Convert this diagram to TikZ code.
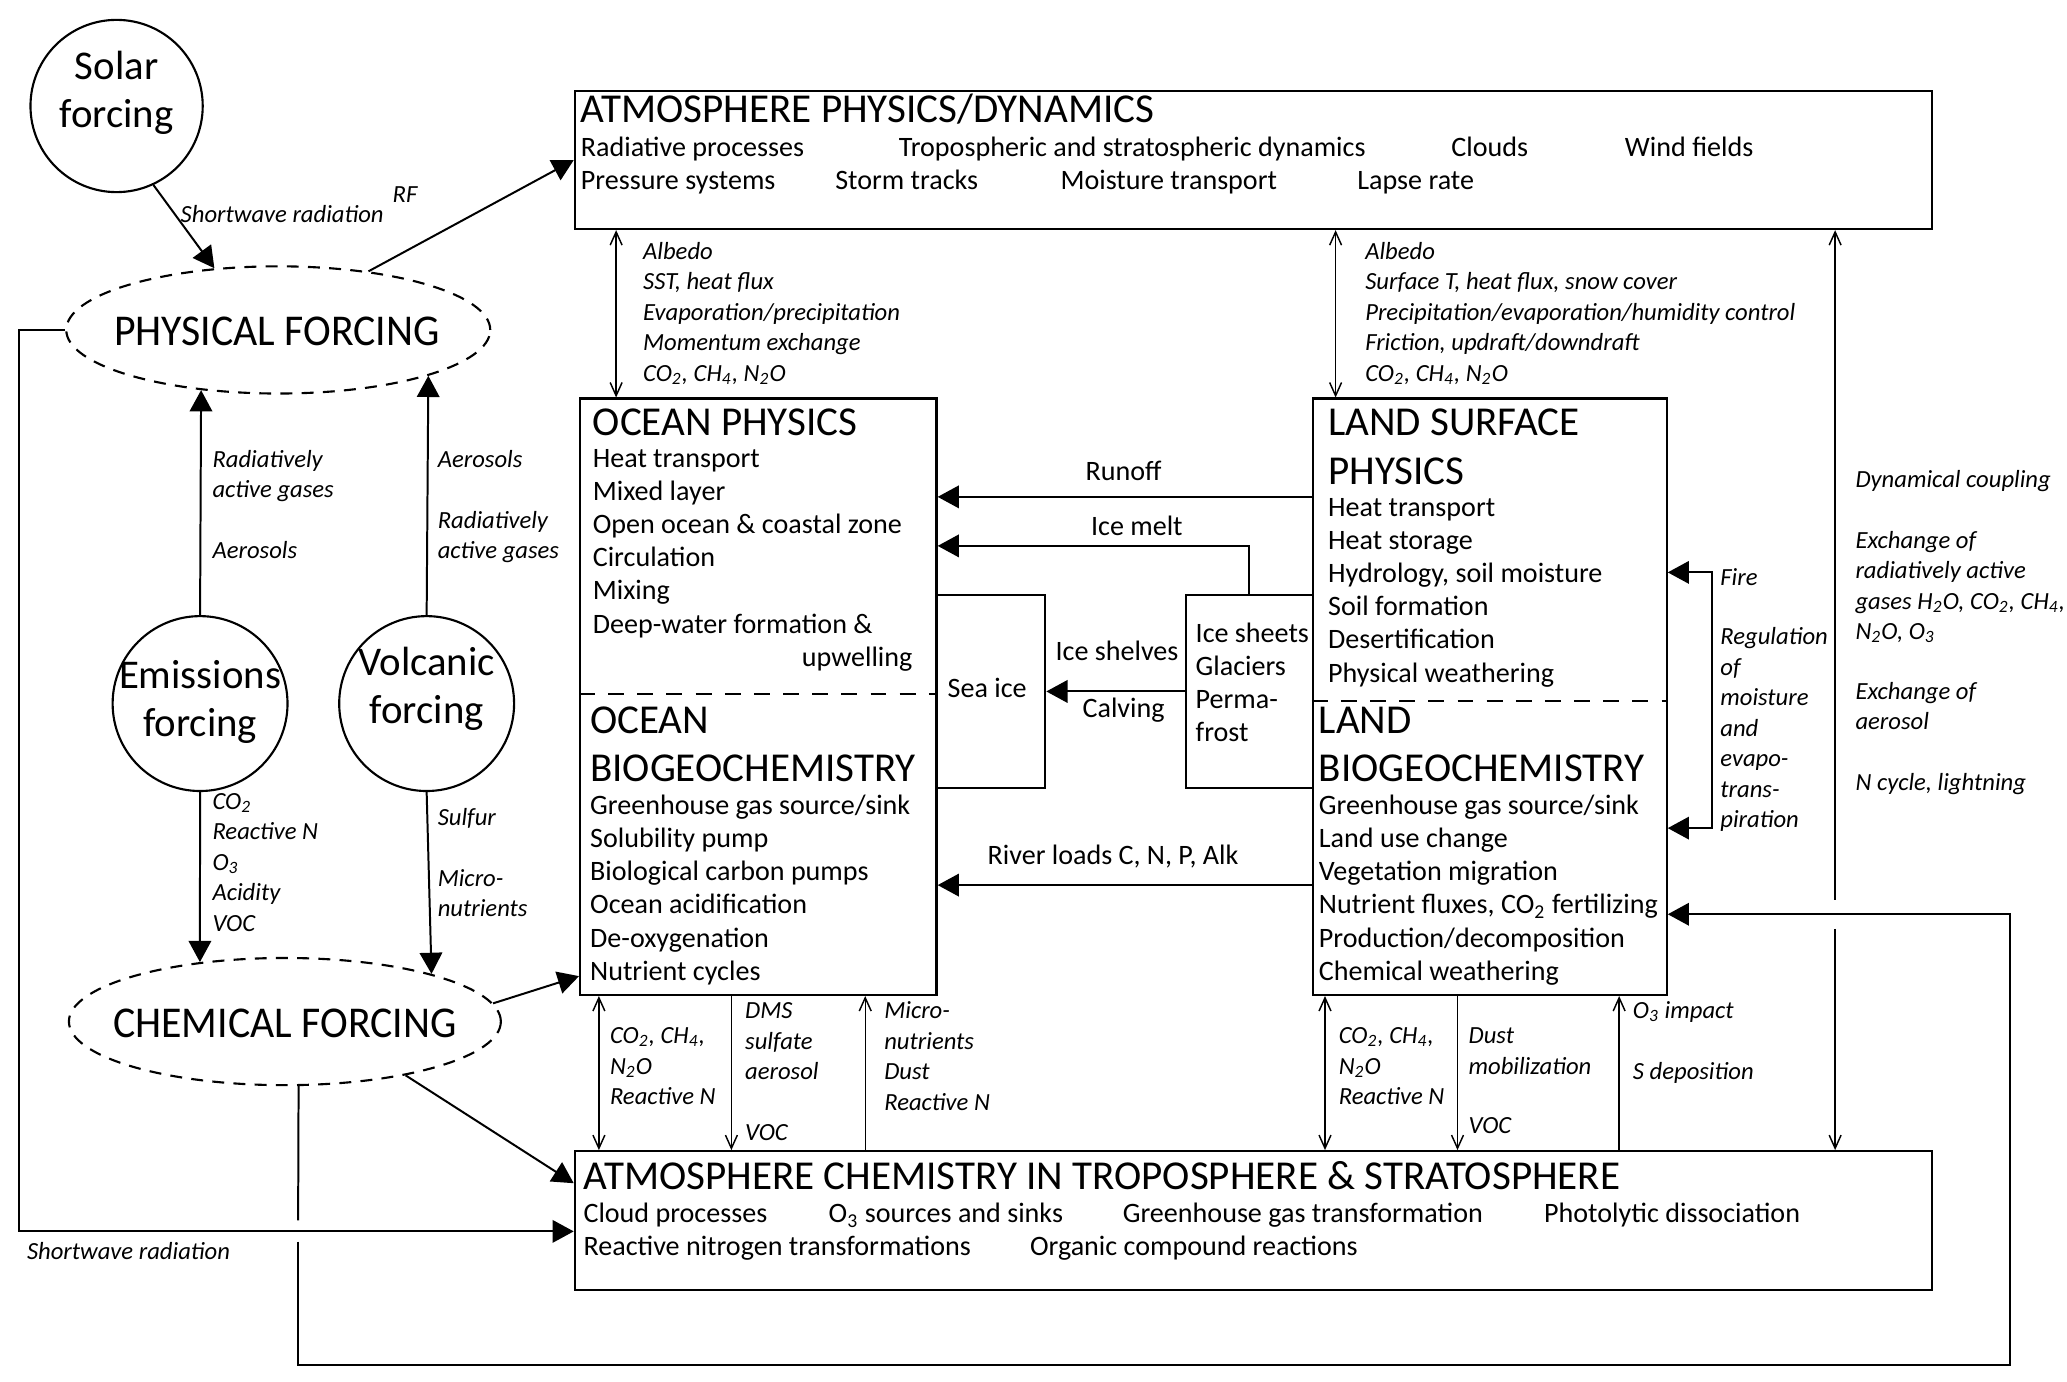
\documentclass[tikz,border=0pt]{standalone}
\usepackage{fontspec}
\setmainfont{Carlito}
\newfontfamily\condf{Carlito}[FakeStretch=0.95]
\usetikzlibrary{arrows.meta,shapes.geometric}
\begin{document}
\begin{tikzpicture}[x=0.5pt,y=-0.5pt,
  box/.style={draw,line width=0.85pt,inner sep=0,anchor=north west},
  circ/.style={draw,circle,line width=0.8pt,inner sep=0},
  ell/.style={draw,ellipse,dash pattern=on 4.5pt off 3.5pt,line width=0.8pt,inner sep=0},
  divider/.style={dash pattern=on 6pt off 5pt,line width=0.8pt},
  fat/.style={line width=0.75pt,-{Triangle[length=8pt,width=8.5pt]}},
  fatboth/.style={line width=0.75pt,{Triangle[length=8pt,width=8.5pt]}-{Triangle[length=8pt,width=8.5pt]}},
  thin/.style={line width=0.55pt,-{Straight Barb[length=5pt,width=4.5pt]}},
  thinboth/.style={line width=0.55pt,{Straight Barb[length=5pt,width=4.5pt]}-{Straight Barb[length=5pt,width=4.5pt]}},
  plain/.style={line width=0.75pt},
  bodyt/.style={font=\fontsize{10.6}{12}\selectfont,anchor=mid west,inner sep=0},
  ttl/.style={font=\fontsize{15.5}{18}\selectfont,anchor=mid west,inner sep=0},
  lab/.style={font=\itshape\fontsize{9.3}{11}\selectfont,anchor=mid west,inner sep=0},
  bigt/.style={font=\fontsize{15.4}{18}\selectfont,align=center,inner sep=0},
  ellt/.style={font=\condf\fontsize{16.6}{18}\selectfont,inner sep=0},
  midt/.style={font=\fontsize{10.6}{12}\selectfont,anchor=mid,inner sep=0}]
\useasboundingbox[fill=white] (0,0) rectangle (1560,1043);

% ---------- boxes ----------
\node[box,minimum width=512pt,minimum height=52pt] (atm) at (433,68) {};
\node[box,minimum width=134.5pt,minimum height=225pt] (ocean) at (437,300) {};
\node[box,minimum width=133.5pt,minimum height=225pt] (land) at (990,300) {};
\node[box,minimum width=41pt,minimum height=73pt] (seaice) at (706,448) {};
\node[box,minimum width=48pt,minimum height=73pt] (icesh) at (894,448) {};
\node[box,minimum width=512pt,minimum height=52.5pt] (chem) at (433,868) {};

\draw[divider] (ocean.west |- 0,524) -- (ocean.east |- 0,524);
\draw[divider] (land.west |- 0,529) -- (land.east |- 0,529);

% ---------- circles and ellipses ----------
\node[circ,minimum size=65pt] (solar) at (88,80) {};
\node[circ,minimum size=66pt] (emis) at (151,531) {};
\node[circ,minimum size=66pt] (volc) at (322,531) {};
\node[ell,minimum width=160pt,minimum height=48pt] (phys) at (210,249) {};
\node[ell,minimum width=163pt,minimum height=48pt] (chemf) at (215,771) {};

\node[bigt] (solart) at (88,70) {Solar\\forcing};
\node[bigt] (emist) at (151,530) {Emissions\\forcing};
\node[bigt] (volct) at (322,520) {Volcanic\\forcing};
\node[ellt] (physt) at (209,250) {PHYSICAL FORCING};
\node[ellt] (chemft) at (215,772) {CHEMICAL FORCING};

% ---------- box texts ----------
\node[ttl] (atmt) at (438,88) {ATMOSPHERE PHYSICS/DYNAMICS};
\node[bodyt] (a1) at (438,113) {Radiative processes};
\node[bodyt] (a2) at (678,113) {Tropospheric and stratospheric dynamics};
\node[bodyt] (a3) at (1095,113) {Clouds};
\node[bodyt] (a4) at (1226,113) {Wind fields};
\node[bodyt] (a5) at (438,138) {Pressure systems};
\node[bodyt] (a6) at (630,138) {Storm tracks};
\node[bodyt] (a7) at (800,138) {Moisture transport};
\node[bodyt] (a8) at (1024,138) {Lapse rate};

\node[ttl] (chemt) at (440,893) {ATMOSPHERE CHEMISTRY IN TROPOSPHERE \& STRATOSPHERE};
\node[bodyt] (c1) at (440,918) {Cloud processes};
\node[bodyt] (c2) at (625,918) {O\textsubscript{3} sources and sinks};
\node[bodyt] (c3) at (847,918) {Greenhouse gas transformation};
\node[bodyt] (c4) at (1165,918) {Photolytic dissociation};
\node[bodyt] (c5) at (440,943) {Reactive nitrogen transformations};
\node[bodyt] (c6) at (777,943) {Organic compound reactions};

\node[ttl] (opt) at (447,324) {OCEAN PHYSICS};
\foreach \t [count=\i from 0] in {Heat transport, Mixed layer, Open ocean \& coastal zone, Circulation, Mixing, Deep-water formation \&}
  \node[bodyt] (op\i) at (447,{348+25*\i}) {\t};
\node[bodyt,anchor=mid east] (opu) at (689,498) {upwelling};
\node[ttl] (obt1) at (445,549) {OCEAN};
\node[ttl] (obt2) at (445,585) {BIOGEOCHEMISTRY};
\foreach \t [count=\i from 0] in {Greenhouse gas source/sink, Solubility pump, Biological carbon pumps, Ocean acidification, De-oxygenation, Nutrient cycles}
  \node[bodyt] (ob\i) at (445,{610+25*\i}) {\t};

\node[ttl] (lpt1) at (1002,324) {LAND SURFACE};
\node[ttl] (lpt2) at (1002,361) {PHYSICS};
\foreach \t [count=\i from 0] in {Heat transport, Heat storage, {Hydrology, soil moisture}, Soil formation, Desertification, Physical weathering}
  \node[bodyt] (lp\i) at (1002,{385+25*\i}) {\t};
\node[ttl] (lbt1) at (995,549) {LAND};
\node[ttl] (lbt2) at (995,585) {BIOGEOCHEMISTRY};
\foreach \t [count=\i from 0] in {Greenhouse gas source/sink, Land use change, Vegetation migration, {Nutrient fluxes, CO\textsubscript{2} fertilizing}, Production/decomposition, Chemical weathering}
  \node[bodyt] (lb\i) at (995,{610+25*\i}) {\t};

\node[midt] (seat) at (745,522) {Sea ice};
\foreach \t [count=\i from 0] in {Ice sheets, Glaciers, Perma-, frost}
  \node[bodyt] (is\i) at (902,{480+25*\i}) {\t};

% ---------- connectors ----------
\draw[fat] (solar.-65) -- (phys.136);
\draw[fat] (phys.33) -- (atm.west);
\draw[fat] (emis.north) -- (phys.-142);
\draw[fat] (volc.north) -- (phys.-17);
\draw[fat] (emis.south) -- (chemf.145.4);
\draw[fat] (volc.south) -- (chemf.18.7);
\draw[fat] (chemf.5) -- ([yshift=7.5pt]ocean.south west);
\draw[fat] (chemf.-24) -- ([yshift=-12.5pt]chem.north west);
\draw[fat] (phys.west) -- ++(-35,0) |- ([yshift=-4pt]chem.west);

% big loop with a gap at the crossing
\coordinate (bl1) at (225,921);
\coordinate (bl2) at (225,937);
\coordinate (bl3) at (1517,1030);
\draw[plain] (chemf.-78.2) -- (bl1);
\draw[fat] (bl2) |- (bl3) |- ([yshift=-195pt]land.north east);

% ocean/land horizontal arrows
\draw[fat] ([yshift=-37.5pt]land.north west) -- ([yshift=-37.5pt]ocean.north east);
\draw[fat] (icesh.north) |- ([yshift=-56pt]ocean.north east);
\draw[fat] (icesh.west) -- (seaice.east);
\draw[fat] ([yshift=-184pt]land.north west) -- ([yshift=-184pt]ocean.north east);
\draw[fatboth] ([yshift=-66pt]land.north east) -- ++(33,0) |- ([yshift=-162.5pt]land.north east);

% vertical exchanges with the atmosphere
\draw[thinboth] ([xshift=14pt]ocean.north west |- atm.south) -- ([xshift=14pt]ocean.north west);
\draw[thinboth] ([xshift=9pt]land.north west |- atm.south) -- ([xshift=9pt]land.north west);
\coordinate (dcA) at (1385,679);
\coordinate (dcB) at (1385,701);
\draw[thin] (dcA) -- (dcA |- atm.south);
\draw[thin] (dcB) -- (dcB |- chem.north);

\draw[thinboth] ([xshift=7.5pt]ocean.south west) -- ([xshift=7.5pt]ocean.south west |- chem.north);
\draw[thin] ([xshift=57.5pt]ocean.south west) -- ([xshift=57.5pt]ocean.south west |- chem.north);
\draw[thin] ([xshift=108pt]ocean.south west |- chem.north) -- ([xshift=108pt]ocean.south west);
\draw[thinboth] ([xshift=5pt]land.south west) -- ([xshift=5pt]land.south west |- chem.north);
\draw[thin] ([xshift=55pt]land.south west) -- ([xshift=55pt]land.south west |- chem.north);
\draw[thin] ([xshift=116pt]land.south west |- chem.north) -- ([xshift=116pt]land.south west);

% ---------- labels ----------
\node[lab] (l1) at (136,163) {Shortwave radiation};
\node[lab] (l2) at (296,148) {RF};
\node[lab] (l3) at (20,946) {Shortwave radiation};

\foreach \t [count=\i from 0] in {Albedo, {SST, heat flux}, Evaporation/precipitation, Momentum exchange, {CO\textsubscript{2}, CH\textsubscript{4}, N\textsubscript{2}O}}
  \node[lab] (ot\i) at (485,{191+23*\i}) {\t};
\foreach \t [count=\i from 0] in {Albedo, {Surface T, heat flux, snow cover}, Precipitation/evaporation/humidity control, {Friction, updraft/downdraft}, {CO\textsubscript{2}, CH\textsubscript{4}, N\textsubscript{2}O}}
  \node[lab] (lt\i) at (1030,{191+23*\i}) {\t};

\node[lab] (dc0) at (1400,363) {Dynamical coupling};
\foreach \t [count=\i from 0] in {Exchange of, radiatively active, {gases H\textsubscript{2}O, CO\textsubscript{2}, CH\textsubscript{4},}, {N\textsubscript{2}O, O\textsubscript{3}}}
  \node[lab] (dx\i) at (1400,{409+23*\i}) {\t};
\node[lab] (dy0) at (1400,523) {Exchange of};
\node[lab] (dy1) at (1400,546) {aerosol};
\node[lab] (dz0) at (1400,592) {N cycle, lightning};

\node[lab] (fi0) at (1298,437) {Fire};
\foreach \t [count=\i from 0] in {Regulation, of, moisture, and, evapo-, trans-, piration}
  \node[lab] (rg\i) at (1298,{482+23*\i}) {\t};

\node[lab] (eu0) at (160,348) {Radiatively};
\node[lab] (eu1) at (160,371) {active gases};
\node[lab] (eu2) at (160,417) {Aerosols};
\node[lab] (vu0) at (330,348) {Aerosols};
\node[lab] (vu1) at (330,394) {Radiatively};
\node[lab] (vu2) at (330,417) {active gases};
\foreach \t [count=\i from 0] in {CO\textsubscript{2}, Reactive N, O\textsubscript{3}, Acidity, VOC}
  \node[lab] (ed\i) at (160,{606+23*\i}) {\t};
\node[lab] (vd0) at (330,618) {Sulfur};
\node[lab] (vd1) at (330,664) {Micro-};
\node[lab] (vd2) at (330,687) {nutrients};

\foreach \t [count=\i from 0] in {{CO\textsubscript{2}, CH\textsubscript{4},}, N\textsubscript{2}O, Reactive N}
  \node[lab] (ob\i x) at (460,{783+23*\i}) {\t};
\foreach \t [count=\i from 0] in {DMS, sulfate, aerosol}
  \node[lab] (dm\i) at (562,{764+23*\i}) {\t};
\node[lab] (dm3) at (562,856) {VOC};
\foreach \t [count=\i from 0] in {Micro-, nutrients, Dust, Reactive N}
  \node[lab] (mn\i) at (667,{764+23*\i}) {\t};

\foreach \t [count=\i from 0] in {{CO\textsubscript{2}, CH\textsubscript{4},}, N\textsubscript{2}O, Reactive N}
  \node[lab] (lb\i x) at (1010,{783+23*\i}) {\t};
\node[lab] (du0) at (1108,783) {Dust};
\node[lab] (du1) at (1108,806) {mobilization};
\node[lab] (du2) at (1108,851) {VOC};
\node[lab] (oz0) at (1232,764) {O\textsubscript{3} impact};
\node[lab] (oz1) at (1232,810) {S deposition};

\node[midt] (ro) at (848,358) {Runoff};
\node[midt] (im) at (858,399) {Ice melt};
\node[midt] (ish) at (843,494) {Ice shelves};
\node[midt] (cv) at (848,537) {Calving};
\node[midt] (rl) at (840,648) {River loads C, N, P, Alk};
\end{tikzpicture}
\end{document}
